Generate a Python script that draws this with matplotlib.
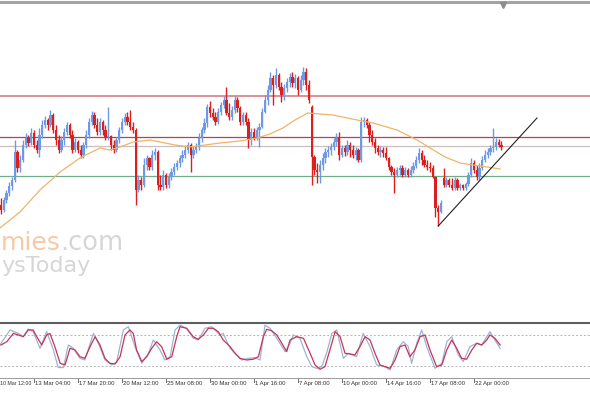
import matplotlib
matplotlib.use("Agg")
import matplotlib.pyplot as plt
import matplotlib.transforms as mtransforms
import numpy as np

# ---------------- data (H4 candles) ----------------
opens = [1.0995,1.0990,1.1000,1.1007,1.1014,1.1020,1.1048,1.1032,1.1040,1.1055,
         1.1062,1.1057,1.1067,1.1055,1.1050,1.1065,1.1075,1.1080,1.1075,1.1085,
         1.1070,1.1060,1.1050,1.1060,1.1068,1.1075,1.1065,1.1050,1.1058,1.1050,
         1.1045,1.1055,1.1065,1.1078,1.1085,1.1075,1.1068,1.1078,1.1070,1.1063,
         1.1064,1.1055,1.1050,1.1060,1.1070,1.1078,1.1083,1.1078,1.1073,1.1070,
         1.1010,1.1020,1.1015,1.1035,1.1042,1.1033,1.1045,1.1048,1.1015,1.1013,
         1.1025,1.1015,1.1023,1.1028,1.1033,1.1037,1.1042,1.1045,1.1050,1.1055,
         1.1045,1.1050,1.1053,1.1062,1.1070,1.1077,1.1093,1.1087,1.1083,1.1078,
         1.1088,1.1095,1.1100,1.1087,1.1083,1.1090,1.1100,1.1092,1.1078,1.1085,
         1.1078,1.1060,1.1068,1.1063,1.1070,1.1073,1.1088,1.1100,1.1110,1.1122,
         1.1115,1.1125,1.1113,1.1105,1.1112,1.1118,1.1123,1.1117,1.1122,1.1110,
         1.1120,1.1128,1.1115,1.1093,1.1043,1.1030,1.1028,1.1035,1.1042,1.1048,
         1.1050,1.1053,1.1058,1.1062,1.1045,1.1052,1.1048,1.1055,1.1050,1.1045,
         1.1050,1.1040,1.1078,1.1080,1.1075,1.1065,1.1058,1.1052,1.1048,1.1050,
         1.1047,1.1042,1.1033,1.1028,1.1025,1.1030,1.1032,1.1025,1.1030,1.1025,
         1.1030,1.1034,1.1040,1.1047,1.1040,1.1035,1.1033,1.1032,1.1023,1.0992,
         1.0988,1.1022,1.1015,1.1020,1.1015,1.1012,1.1020,1.1012,1.1015,1.1012,
         1.1016,1.1025,1.1037,1.1030,1.1023,1.1032,1.1040,1.1045,1.1048,1.1052,
         1.1053,1.1058,1.1055]
highs = [1.1002,1.1003,1.1010,1.1018,1.1023,1.1060,1.1050,1.1045,1.1060,1.1067,
         1.1065,1.1072,1.1070,1.1060,1.1072,1.1080,1.1084,1.1082,1.1090,1.1087,
         1.1075,1.1065,1.1064,1.1072,1.1078,1.1077,1.1070,1.1062,1.1060,1.1055,
         1.1058,1.1070,1.1082,1.1089,1.1088,1.1082,1.1082,1.1080,1.1075,1.1093,
         1.1065,1.1060,1.1063,1.1073,1.1082,1.1087,1.1088,1.1090,1.1078,1.1072,
         1.1025,1.1023,1.1042,1.1045,1.1043,1.1050,1.1052,1.1050,1.1025,1.1030,
         1.1027,1.1027,1.1032,1.1037,1.1040,1.1045,1.1050,1.1055,1.1058,1.1057,
         1.1054,1.1057,1.1067,1.1073,1.1082,1.1096,1.1099,1.1092,1.1088,1.1092,
         1.1098,1.1104,1.1113,1.1097,1.1094,1.1104,1.1103,1.1094,1.1088,1.1088,
         1.1082,1.1072,1.1072,1.1073,1.1077,1.1092,1.1105,1.1115,1.1128,1.1125,
         1.1132,1.1127,1.1118,1.1116,1.1122,1.1127,1.1128,1.1126,1.1124,1.1125,
         1.1133,1.1132,1.1120,1.1095,1.1045,1.1037,1.1040,1.1047,1.1052,1.1054,
         1.1057,1.1062,1.1067,1.1068,1.1055,1.1055,1.1060,1.1058,1.1055,1.1053,
         1.1052,1.1083,1.1083,1.1082,1.1078,1.1070,1.1062,1.1055,1.1054,1.1053,
         1.1053,1.1043,1.1035,1.1032,1.1033,1.1035,1.1035,1.1033,1.1032,1.1034,
         1.1038,1.1044,1.1052,1.1050,1.1045,1.1040,1.1038,1.1035,1.1024,1.0995,
         1.1000,1.1032,1.1023,1.1022,1.1022,1.1023,1.1022,1.1017,1.1016,1.1018,
         1.1028,1.1042,1.1040,1.1035,1.1037,1.1044,1.1050,1.1052,1.1055,1.1072,
         1.1062,1.1061,1.1059]
lows = [1.0986,1.0988,1.0997,1.1004,1.1010,1.1018,1.1028,1.1028,1.1038,1.1052,
        1.1054,1.1055,1.1052,1.1047,1.1043,1.1062,1.1072,1.1070,1.1073,1.1067,
        1.1055,1.1047,1.1048,1.1055,1.1065,1.1062,1.1047,1.1048,1.1047,1.1042,
        1.1042,1.1052,1.1062,1.1075,1.1072,1.1065,1.1065,1.1065,1.1060,1.1060,
        1.1050,1.1047,1.1048,1.1057,1.1067,1.1075,1.1075,1.1070,1.1067,1.0995,
        1.1008,1.1010,1.1013,1.1030,1.1030,1.1030,1.1040,1.1010,1.1010,1.1010,
        1.1012,1.1012,1.1020,1.1025,1.1030,1.1033,1.1038,1.1042,1.1047,1.1028,
        1.1042,1.1047,1.1050,1.1058,1.1067,1.1073,1.1083,1.1080,1.1075,1.1076,
        1.1085,1.1092,1.1085,1.1080,1.1080,1.1087,1.1088,1.1075,1.1075,1.1075,
        1.1052,1.1055,1.1060,1.1060,1.1053,1.1072,1.1087,1.1095,1.1108,1.1095,
        1.1112,1.1110,1.1098,1.1100,1.1108,1.1113,1.1113,1.1112,1.1105,1.1108,
        1.1115,1.1110,1.1097,1.1015,1.1025,1.1017,1.1017,1.1030,1.1037,1.1043,
        1.1045,1.1050,1.1054,1.1040,1.1043,1.1044,1.1045,1.1043,1.1042,1.1040,
        1.1038,1.1038,1.1073,1.1072,1.1058,1.1055,1.1047,1.1045,1.1043,1.1043,
        1.1040,1.1030,1.1025,1.1007,1.1023,1.1025,1.1023,1.1023,1.1023,1.1023,
        1.1027,1.1032,1.1037,1.1035,1.1033,1.1030,1.1028,1.1022,1.0983,1.0974,
        1.0987,1.1013,1.1013,1.1013,1.1010,1.1010,1.1010,1.1010,1.1010,1.1010,
        1.1014,1.1023,1.1027,1.1020,1.1020,1.1030,1.1038,1.1042,1.1045,1.1048,
        1.1050,1.1053,1.1050]
closes = [1.0990,1.1000,1.1007,1.1014,1.1020,1.1048,1.1032,1.1040,1.1055,1.1062,
          1.1057,1.1067,1.1055,1.1050,1.1065,1.1075,1.1080,1.1075,1.1085,1.1070,
          1.1060,1.1050,1.1060,1.1068,1.1075,1.1065,1.1050,1.1058,1.1050,1.1045,
          1.1055,1.1065,1.1078,1.1085,1.1075,1.1068,1.1078,1.1070,1.1063,1.1064,
          1.1055,1.1050,1.1060,1.1070,1.1078,1.1083,1.1078,1.1073,1.1070,1.1010,
          1.1020,1.1015,1.1035,1.1042,1.1033,1.1045,1.1048,1.1015,1.1013,1.1025,
          1.1015,1.1023,1.1028,1.1033,1.1037,1.1042,1.1045,1.1050,1.1055,1.1045,
          1.1050,1.1053,1.1062,1.1070,1.1077,1.1093,1.1087,1.1083,1.1078,1.1088,
          1.1095,1.1100,1.1087,1.1083,1.1090,1.1100,1.1092,1.1078,1.1085,1.1078,
          1.1060,1.1068,1.1063,1.1070,1.1073,1.1088,1.1100,1.1110,1.1122,1.1115,
          1.1125,1.1113,1.1105,1.1112,1.1118,1.1123,1.1117,1.1122,1.1110,1.1120,
          1.1128,1.1115,1.1100,1.1043,1.1030,1.1028,1.1035,1.1042,1.1048,1.1050,
          1.1053,1.1058,1.1062,1.1045,1.1052,1.1048,1.1055,1.1050,1.1045,1.1050,
          1.1040,1.1078,1.1080,1.1075,1.1065,1.1058,1.1052,1.1048,1.1050,1.1047,
          1.1042,1.1033,1.1028,1.1025,1.1030,1.1032,1.1025,1.1030,1.1025,1.1030,
          1.1034,1.1040,1.1047,1.1040,1.1035,1.1033,1.1032,1.1023,1.0992,1.0988,
          1.0997,1.1015,1.1020,1.1015,1.1012,1.1020,1.1012,1.1015,1.1012,1.1016,
          1.1025,1.1037,1.1030,1.1023,1.1032,1.1040,1.1045,1.1048,1.1052,1.1053,
          1.1058,1.1055,1.1053]

# moving average : bar position, value
ma_t = [-0.4, 6.9, 14.2, 21.5, 28.7, 36.0, 39.6, 43.3, 48.0, 54.2, 57.8, 63.3, 68.7,
        74.2, 79.6, 86.9, 93.1, 97.8, 102.5, 106.9, 111.6, 116.0, 120.7, 129.5,
        135.3, 144.0, 151.3, 156.0, 161.5, 166.9, 171.6, 176.7, 181.5]
ma_v = [1.0972, 1.0988, 1.1010, 1.1028, 1.1042, 1.1052, 1.1050, 1.1053, 1.1058, 1.1060,
        1.1058, 1.1055, 1.1053, 1.1055, 1.1057, 1.1059, 1.1062, 1.1066, 1.1072, 1.1080,
        1.1087, 1.1086, 1.1085, 1.1080, 1.1077, 1.1070, 1.1060, 1.1052, 1.1043, 1.1037,
        1.1035, 1.1033, 1.1031]

# horizontal levels and trend line
level_upper = 1.1104
level_mid = 1.1063
level_grey = 1.1054
level_green = 1.1024
trend_t = [159.0, 194.9]
trend_v = [1.0974, 1.1082]

# stochastic oscillator
sto_main_t = [-0.4, 3.3, 6.3, 8.1, 9.9, 11.7, 14.2, 16.6, 19.0, 20.8, 22.7, 24.5, 26.3,
              28.7, 30.5, 33.6, 35.4, 37.8, 40.3, 42.1, 44.5, 46.3, 48.7, 51.2, 53.6,
              55.4, 57.8, 59.6, 61.5, 63.3, 65.1, 67.5, 69.9, 71.7, 74.2, 76.6, 79.6,
              80.8, 83.3, 85.7, 87.5, 89.9, 92.4, 94.2, 96.0, 97.8, 100.3, 103.3, 105.1,
              106.3, 108.7, 111.2, 113.0, 114.8, 116.6, 118.4, 120.3, 122.1, 124.5, 126.3,
              129.3, 131.7, 134.2, 136.6, 139.6, 141.5, 143.9, 146.3, 148.1, 149.3, 151.2,
              153.0, 154.8, 157.8, 160.3, 162.1, 163.9, 166.3, 168.1, 170.5, 173.0, 174.8,
              177.8, 179.6, 181.5]
sto_main = [60.6, 89.7, 83.0, 76.7, 91.6, 86.4, 54.2, 86.4, 52.2, 17.0, 17.0, 60.6, 54.2,
            34.8, 31.6, 83.0, 64.0, 31.6, 22.0, 28.4, 89.7, 96.0, 57.4, 25.2, 44.6,
            70.3, 51.0, 31.6, 38.0, 89.7, 99.0, 92.9, 73.6, 70.3, 92.9, 96.0, 80.0,
            83.0, 54.2, 41.3, 31.6, 34.8, 36.0, 31.6, 99.0, 92.9, 73.6, 47.7, 64.0,
            80.0, 73.6, 38.0, 18.7, 15.5, 18.7, 44.6, 83.0, 89.7, 34.8, 44.6,
            38.0, 83.0, 57.4, 22.0, 18.7, 12.3, 51.0, 67.0, 57.4, 25.2, 64.0,
            89.7, 57.4, 15.5, 25.2, 67.0, 76.7, 41.3, 28.4, 57.4, 64.0, 60.6,
            86.4, 70.3, 54.2]
sto_sig_t = [0.0, 2.1, 4.5, 6.3, 8.1, 9.9, 11.7, 13.0, 14.8, 16.6, 17.8, 19.6, 21.5, 23.3,
             25.1, 26.9, 28.7, 30.5, 32.4, 34.2, 36.0, 37.8, 39.6, 41.5, 43.3, 45.1, 46.9,
             48.1, 49.3, 51.2, 53.0, 54.8, 56.6, 58.4, 60.3, 62.1, 63.9, 65.1, 67.5, 69.9,
             71.7, 73.6, 75.4, 77.2, 79.0, 80.8, 83.3, 85.1, 86.9, 89.3, 91.7, 93.6, 95.4,
             96.6, 98.4, 100.3, 102.1, 103.9, 105.1, 107.5, 110.0, 112.4, 114.2, 116.0,
             117.8, 119.6, 121.5, 123.3, 125.1, 126.9, 128.7, 130.5, 132.4, 134.2, 136.0,
             137.8, 139.6, 141.5, 143.3, 145.1, 146.9, 148.7, 150.5, 152.4, 154.2, 156.0,
             158.4, 160.3, 162.1, 163.9, 165.7, 167.5, 169.3, 171.2, 173.0, 174.8, 176.6,
             177.8, 179.6, 181.5]
sto_sig = [60.6, 67.0, 83.0, 80.0, 76.7, 89.7, 89.7, 76.7, 60.6, 80.0, 83.0, 57.4, 25.2,
           22.0, 54.2, 51.0, 38.0, 34.8, 57.4, 76.7, 60.6, 34.8, 25.2, 23.9, 38.0, 80.0,
           89.7, 83.0, 51.0, 28.4, 38.0, 54.2, 67.0, 57.4, 33.0, 38.0, 76.7, 96.0, 92.9,
           76.7, 71.6, 80.0, 92.9, 92.9, 86.4, 70.3, 57.4, 44.6, 34.8, 31.6, 33.0, 38.0,
           76.7, 91.0, 88.3, 80.0, 64.0, 47.7, 70.3, 76.7, 73.6, 44.6, 22.0, 13.6,
           18.7, 51.0, 86.4, 76.7, 44.6, 43.2, 41.3, 57.4, 76.7, 70.3, 44.6,
           22.0, 18.7, 15.5, 31.6, 57.4, 60.6, 38.0, 51.0, 76.7, 80.0, 51.0,
           18.7, 22.0, 51.0, 70.3, 54.2, 34.8, 33.0, 51.0, 64.0, 60.6, 70.3,
           80.0, 73.6, 60.6]
sto_levels = [80, 20]

tick_pos = [-4, 12, 28, 44, 60, 76, 92, 108, 124, 140, 156, 172]
tick_labels = ["10 Mar 12:00", "13 Mar 04:00", "17 Mar 20:00", "20 Mar 12:00",
               "25 Mar 08:00", "30 Mar 00:00", "1 Apr 16:00", "7 Apr 08:00",
               "10 Apr 00:00", "14 Apr 16:00", "17 Apr 08:00", "22 Apr 00:00"]

# ---------------- figure ----------------
W, H = 590, 393
fig = plt.figure(figsize=(W / 100, H / 100), dpi=100)
fig.patch.set_facecolor("white")

def fy(py):
    return 1 - py / H

x_lo, x_hi = (0 - 1) / 2.75, (W - 1) / 2.75

ax = fig.add_axes([0, fy(321), 1, (321 - 3) / H])
ax.set_xlim(x_lo, x_hi)
ax.set_ylim(1.0879, 1.1197)
ax.axis("off")

BULL = "#7099e4"
BEAR = "#dc1f1c"
idx = np.arange(len(closes))
o = np.array(opens); c = np.array(closes)
col = [BULL if cc >= oo else BEAR for oo, cc in zip(o, c)]
ax.vlines(idx, lows, highs, colors=col, linewidth=1.0, zorder=3)
body = np.where(np.abs(c - o) < 0.00008, 0.00008, np.abs(c - o))
ax.bar(idx, body, bottom=np.minimum(o, c), width=0.9, color=col, linewidth=0, zorder=4)

ax.plot(ma_t, ma_v, color="#efb468", linewidth=0.9, zorder=5)

ax.axhline(level_upper, color="#d9878f", linewidth=1.3, zorder=2)
ax.axhline(level_mid, color="#c43e4a", linewidth=0.9, zorder=2)
ax.axhline(level_grey, color="#cdbfbf", linewidth=0.9, zorder=2)
ax.axhline(level_green, color="#6fae88", linewidth=0.9, zorder=2)
ax.plot(trend_t, trend_v, color="#202020", linewidth=0.8, zorder=6)

# watermark
fig.text(1 / W, fy(250), "mies", ha="left", va="baseline", fontsize=18,
         color="#f8c9a6", family="DejaVu Sans", zorder=0)
fig.text(60 / W, fy(250), ".com", ha="left", va="baseline", fontsize=18.5,
         color="#d6d6d6", family="DejaVu Sans", zorder=0)
fig.text(1 / W, fy(272), "ysToday", ha="left", va="baseline", fontsize=16,
         color="#d6d6d6", family="DejaVu Sans", zorder=0)

# frame lines
fig.add_artist(plt.Line2D([0, 1], [fy(1.5), fy(1.5)], color="#a4a4a4", linewidth=2.2))
fig.add_artist(plt.Line2D([0, 1], [fy(322.5), fy(322.5)], color="#5e5e5e", linewidth=1.5))
fig.add_artist(plt.Line2D([503 / W], [fy(5)], marker="v", markersize=4,
                          color="#8c8c8c", linestyle="none"))

# ---------------- stochastic ----------------
ax2 = fig.add_axes([0, fy(377.5), 1, 54 / H])
ax2.set_xlim(x_lo, x_hi)
ax2.set_ylim(-2.3, 102.2)
for lv in sto_levels:
    ax2.axhline(lv, color="#b4b4b4", linewidth=0.7, linestyle=(0, (2, 2)))
ax2.plot(sto_main_t, sto_main, color="#9fb2d6", linewidth=0.9)
ax2.plot(sto_sig_t, sto_sig, color="#c43656", linewidth=0.9)
for s in ["top", "left", "right"]:
    ax2.spines[s].set_visible(False)
ax2.spines["bottom"].set_color("#9a9a9a")
ax2.spines["bottom"].set_linewidth(0.7)
ax2.set_yticks([])
ax2.set_xticks([])
trans = mtransforms.blended_transform_factory(ax2.transData, ax2.transAxes)
for t, lab in zip(tick_pos, tick_labels):
    fs = 4.3
    if t >= x_lo:
        ax2.plot([t, t], [0, -0.075], transform=trans, color="#555555", linewidth=0.6,
                 clip_on=False)
        tx = t + 0.35
    else:
        tx = x_lo + 0.05
        fs = 3.8
    ax2.text(tx, -0.07, lab, transform=trans, ha="left", va="top", fontsize=fs,
             family="Liberation Sans", color="#333333", clip_on=False)

fig.savefig("out.png", dpi=100, facecolor="white")
